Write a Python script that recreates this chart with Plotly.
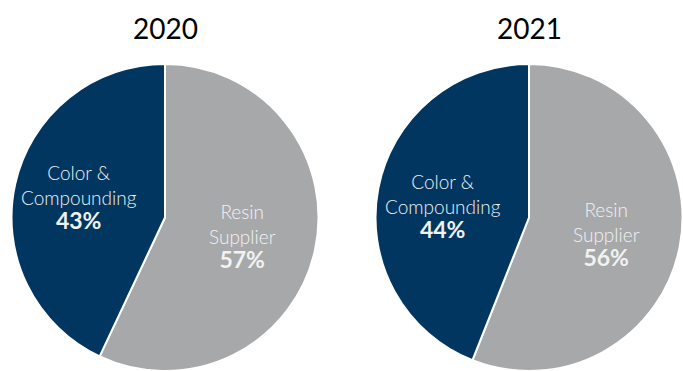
import plotly.graph_objects as go

years = ["2020", "2021"]
labels = ["Resin<br>Supplier", "Color &<br>Compounding"]
values_2020 = [57, 43]
values_2021 = [56, 44]
colors = ["#A7A8AA", "#003660"]

W, H = 683, 371

def dom(cx, top, r):
    return dict(x=[max(0, (cx - r) / W), min(1, (cx + r) / W)],
                y=[max(0, 1 - (top + 2 * r) / H), min(1, 1 - top / H)])

fig = go.Figure()
centers = [165, 529]
doms = [dom(165, 64, 153.5), dom(529, 64, 153.5)]
# label block centres (pixels) per pie, per slice
label_pos = [[(242, 236), (79, 197)], [(606, 234), (443, 207)]]

for vals, d, lp, yr, cx in zip([values_2020, values_2021], doms, label_pos, years, centers):
    fig.add_trace(go.Pie(
        labels=labels, values=vals, sort=False, direction="clockwise", rotation=0,
        marker=dict(colors=colors, line=dict(color="white", width=2)),
        textinfo="none", hoverinfo="skip", domain=d, showlegend=False,
    ))
    for lab, v, (px, py) in zip(labels, vals, lp):
        fig.add_annotation(
            text=f"{lab}<br><b style='font-size:23px'>{v}%</b>",
            x=px / W, y=1 - py / H, xref="paper", yref="paper", showarrow=False,
            xanchor="center", yanchor="middle", align="center",
            font=dict(family="Lato", size=19, color="#F2F2F2", weight=300))
    fig.add_annotation(text=yr, x=cx / W, y=1 - 28 / H, xref="paper", yref="paper",
                       showarrow=False, xanchor="center", yanchor="middle",
                       font=dict(family="Lato", size=28, color="black"))

fig.update_layout(width=W, height=H, margin=dict(l=0, r=0, t=0, b=0),
                  paper_bgcolor="white", plot_bgcolor="white")
fig.write_html("out.html")
